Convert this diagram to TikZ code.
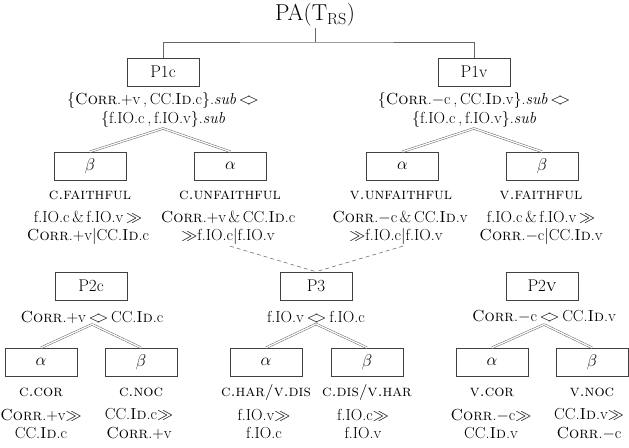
\RequirePackage{fix-cm}
\documentclass[tikz,border=0pt]{standalone}
\usepackage{fontspec}
\usetikzlibrary{calc}
\newcommand{\ud}{$<\mkern-5mu>$}
\begin{document}
\begin{tikzpicture}[x=1pt,y=-1pt,
  box/.style={draw=black!75,line width=0.6pt,minimum width=72pt,minimum height=28pt,inner sep=0pt,font=\fontsize{17}{19}\selectfont},
  txt/.style={align=center,inner sep=1pt,font=\fontsize{16}{18.5}\selectfont},
  lbl/.style={inner sep=1pt,font=\fontsize{16}{18}\selectfont},
  dbl/.style={draw=black!60,line width=0.5pt,double=white,double distance=1.3pt},
  sgl/.style={draw=black!60,line width=0.7pt},
  dsh/.style={draw=black!55,line width=0.6pt,dash pattern=on 4pt off 3pt}]
\useasboundingbox (0,0) rectangle (629,447);
% top
\node[inner sep=1pt,font=\fontsize{23}{25}\selectfont] (pa) at (315,15) {PA(T$_{\mathrm{RS}}$)};
\coordinate (jn) at (315,42);
\node[box] (p1c) at (163,72) {P1c};
\node[box] (p1v) at (474,72) {P1v};
\draw[sgl] (pa.south) -- (jn);
\draw[sgl] (p1c.north) |- (jn) -| (p1v.north);
% level 1 texts
\node[txt] (t1c) at (163,110) {\{\textsc{Corr}.+v\,,\,CC.\textsc{Id}.c\}.\textit{sub}\,\ud\\\{f.IO.c\,,\,f.IO.v\}.\textit{sub}};
\node[txt] (t1v) at (474,110) {\{\textsc{Corr}.$-$c\,,\,CC.\textsc{Id}.v\}.\textit{sub}\,\ud\\\{f.IO.c\,,\,f.IO.v\}.\textit{sub}};
% level 2 boxes
\node[box] (b1) at (90,166) {$\beta$};
\node[box] (a1) at (230.5,166) {$\alpha$};
\node[box] (a2) at (402.5,166) {$\alpha$};
\node[box] (b2) at (542,166) {$\beta$};
\draw[dbl] (t1c.south) -- (b1.north);
\draw[dbl] (t1c.south) -- (a1.north);
\draw[dbl] (t1v.south) -- (a2.north);
\draw[dbl] (t1v.south) -- (b2.north);
% level 2 labels
\node[lbl] (lb1) at (90,195) {\textsc{c.faithful}};
\node[lbl] (la1) at (230,195) {\textsc{c.unfaithful}};
\node[lbl] (la2) at (401,195) {\textsc{v.unfaithful}};
\node[lbl] (lb2) at (541,195) {\textsc{v.faithful}};
\node[txt] (cb1) at (88,228) {f.IO.c\,\&\,f.IO.v\,$\gg$\\\textsc{Corr}.+v$|$CC.\textsc{Id}.c};
\node[txt] (ca1) at (228,228) {\textsc{Corr}.+v\,\&\,CC.\textsc{Id}.c\\$\gg$f.IO.c$|$f.IO.v};
\node[txt] (ca2) at (400,228) {\textsc{Corr}.$-$c\,\&\,CC.\textsc{Id}.v\\$\gg$f.IO.c$|$f.IO.v\hspace*{8pt}};
\node[txt] (cb2) at (541,228) {f.IO.c\,\&\,f.IO.v\,$\gg$\\\textsc{Corr}.$-$c$|$CC.\textsc{Id}.v};
% level 3 boxes
\node[box] (p2c) at (91,286) {P2c};
\node[box] (p3) at (316,286) {P3};
\node[box] (p2v) at (542,286) {P2\textsc{v}};
\draw[dbl] (p2c.north) -- (p2c.north |- cb1.south);
\draw[dbl] (p2v.north) -- (p2v.north |- cb2.south);
\draw[dsh] ($(ca1.south)+(2,0)$) -- (p3.north);
\draw[dsh] ($(ca2.south)+(3,0)$) -- (p3.north);
% level 3 texts
\node[txt] (t2c) at (92,317) {\textsc{Corr}.+v\,\ud\,CC.\textsc{Id}.c};
\node[txt] (t3) at (316,317) {f.IO.v\,\ud\,f.IO.c};
\node[txt] (t2v) at (544,317) {\textsc{Corr}.$-$c\,\ud\,CC.\textsc{Id}.v};
% bottom boxes
\node[box] (a3) at (41,362) {$\alpha$};
\node[box] (b3) at (141,362) {$\beta$};
\node[box] (a4) at (266,362) {$\alpha$};
\node[box] (b4) at (367,362) {$\beta$};
\node[box] (a5) at (492,362) {$\alpha$};
\node[box] (b5) at (592,362) {$\beta$};
\draw[dbl] (t2c.south) -- (a3.north);
\draw[dbl] (t2c.south) -- (b3.north);
\draw[dbl] (t3.south) -- (a4.north);
\draw[dbl] (t3.south) -- (b4.north);
\draw[dbl] (t2v.south) -- (a5.north);
\draw[dbl] (t2v.south) -- (b5.north);
% bottom labels
\node[lbl] (la3) at (41,392) {\textsc{c.cor}};
\node[lbl] (lb3) at (141,392) {\textsc{c.noc}};
\node[lbl] (la4) at (266,392) {\textsc{c.har/v.dis}};
\node[lbl] (lb4) at (367,392) {\textsc{c.dis/v.har}};
\node[lbl] (la5) at (492,392) {\textsc{v.cor}};
\node[lbl] (lb5) at (592,392) {\textsc{v.noc}};
\node[txt] (ca3) at (41,424) {\textsc{Corr}.+v$\gg$\\CC.\textsc{Id}.c};
\node[txt] (cb3) at (139,424) {CC.\textsc{Id}.c$\gg$\\\textsc{Corr}.+v};
\node[txt] (ca4) at (264,424) {f.IO.v$\gg$\\f.IO.c};
\node[txt] (cb4) at (363,424) {f.IO.c$\gg$\\f.IO.v};
\node[txt] (ca5) at (491,424) {\textsc{Corr}.$-$c$\gg$\\CC.\textsc{Id}.v};
\node[txt] (cb5) at (589,424) {CC.\textsc{Id}.v$\gg$\\\textsc{Corr}.$-$c};
\end{tikzpicture}
\end{document}
